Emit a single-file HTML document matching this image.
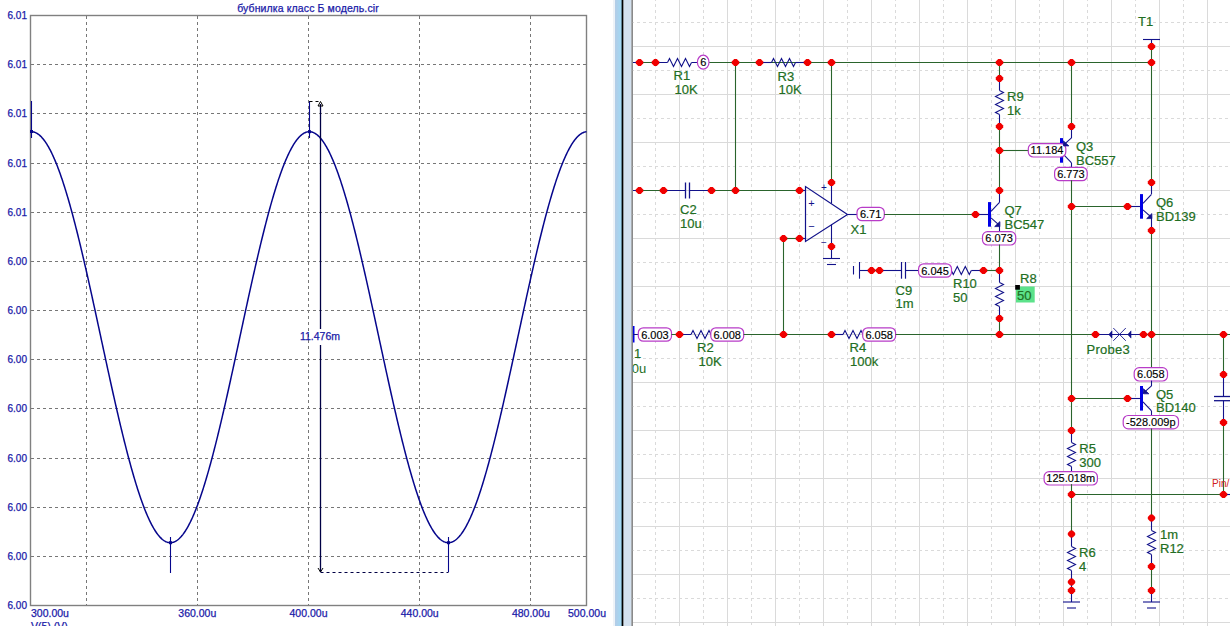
<!DOCTYPE html>
<html><head><meta charset="utf-8">
<style>
html,body{margin:0;padding:0;background:#fff;width:1230px;height:626px;overflow:hidden}
svg{display:block}
text{font-family:"Liberation Sans",sans-serif}
.pt{font-size:10.5px;fill:#1a1aa8;stroke:#1a1aa8;stroke-width:0.25px}
.py{font-size:10px;fill:#1a1aa8;stroke:#1a1aa8;stroke-width:0.25px}
.sl{font-size:13px;fill:#226e22;stroke:#226e22;stroke-width:0.2px}
.slc{font-size:13px;fill:#226e22}
.nl{font-size:11px;fill:#000;stroke:#000;stroke-width:0.15px}
.op{font-size:11px;fill:#12128a}
.op2{font-size:10px;fill:#12128a}
.pin{font-size:10px;fill:#d02020}
</style></head><body>
<svg width="1230" height="626" viewBox="0 0 1230 626">
<defs>
<linearGradient id="sepg" x1="0" x2="1" y1="0" y2="0"><stop offset="0" stop-color="#b4cce6"/><stop offset="1" stop-color="#9edaf6"/></linearGradient>
<clipPath id="sch"><rect x="632.8" y="0" width="600" height="626"/></clipPath>
</defs>
<rect x="0" y="0" width="613" height="626" fill="#fff"/>
<line x1="31" y1="64.5" x2="586.5" y2="64.5" stroke="#777777" stroke-width="1" stroke-dasharray="3 3"/>
<line x1="31" y1="113.5" x2="586.5" y2="113.5" stroke="#777777" stroke-width="1" stroke-dasharray="3 3"/>
<line x1="31" y1="163.5" x2="586.5" y2="163.5" stroke="#777777" stroke-width="1" stroke-dasharray="3 3"/>
<line x1="31" y1="212.5" x2="586.5" y2="212.5" stroke="#777777" stroke-width="1" stroke-dasharray="3 3"/>
<line x1="31" y1="261.5" x2="586.5" y2="261.5" stroke="#777777" stroke-width="1" stroke-dasharray="3 3"/>
<line x1="31" y1="310.5" x2="586.5" y2="310.5" stroke="#777777" stroke-width="1" stroke-dasharray="3 3"/>
<line x1="31" y1="359.5" x2="586.5" y2="359.5" stroke="#777777" stroke-width="1" stroke-dasharray="3 3"/>
<line x1="31" y1="408.5" x2="586.5" y2="408.5" stroke="#777777" stroke-width="1" stroke-dasharray="3 3"/>
<line x1="31" y1="458.5" x2="586.5" y2="458.5" stroke="#777777" stroke-width="1" stroke-dasharray="3 3"/>
<line x1="31" y1="507.5" x2="586.5" y2="507.5" stroke="#777777" stroke-width="1" stroke-dasharray="3 3"/>
<line x1="31" y1="556.5" x2="586.5" y2="556.5" stroke="#777777" stroke-width="1" stroke-dasharray="3 3"/>
<line x1="86.5" y1="16" x2="86.5" y2="605.5" stroke="#777777" stroke-width="1" stroke-dasharray="3 3"/>
<line x1="197.5" y1="16" x2="197.5" y2="605.5" stroke="#777777" stroke-width="1" stroke-dasharray="3 3"/>
<line x1="308.5" y1="16" x2="308.5" y2="605.5" stroke="#777777" stroke-width="1" stroke-dasharray="3 3"/>
<line x1="419.5" y1="16" x2="419.5" y2="605.5" stroke="#777777" stroke-width="1" stroke-dasharray="3 3"/>
<line x1="530.5" y1="16" x2="530.5" y2="605.5" stroke="#777777" stroke-width="1" stroke-dasharray="3 3"/>
<rect x="30.5" y="15.5" width="556.0" height="590.0" fill="none" stroke="#808080" stroke-width="1.4"/>
<text x="27" y="19.1" text-anchor="end" class="py">6.01</text>
<text x="27" y="68.3" text-anchor="end" class="py">6.01</text>
<text x="27" y="117.4" text-anchor="end" class="py">6.01</text>
<text x="27" y="166.6" text-anchor="end" class="py">6.01</text>
<text x="27" y="215.8" text-anchor="end" class="py">6.01</text>
<text x="27" y="264.9" text-anchor="end" class="py">6.00</text>
<text x="27" y="314.1" text-anchor="end" class="py">6.00</text>
<text x="27" y="363.3" text-anchor="end" class="py">6.00</text>
<text x="27" y="412.4" text-anchor="end" class="py">6.00</text>
<text x="27" y="461.6" text-anchor="end" class="py">6.00</text>
<text x="27" y="510.8" text-anchor="end" class="py">6.00</text>
<text x="27" y="559.9" text-anchor="end" class="py">6.00</text>
<text x="27" y="609.1" text-anchor="end" class="py">6.00</text>
<text x="31.0" y="617" text-anchor="start" class="pt">300.00u</text>
<text x="197.3" y="617" text-anchor="middle" class="pt">360.00u</text>
<text x="308.5" y="617" text-anchor="middle" class="pt">400.00u</text>
<text x="419.7" y="617" text-anchor="middle" class="pt">440.00u</text>
<text x="530.9" y="617" text-anchor="middle" class="pt">480.00u</text>
<text x="606.0" y="617" text-anchor="end" class="pt">500.00u</text>
<text x="31" y="630" class="pt">V(5) (V)</text>
<text x="308" y="12" text-anchor="middle" class="pt" letter-spacing="0.12">бубнилка класс Б модель.cir</text>
<polyline points="30.5,131.74 31.0,131.71 31.5,131.70 32.0,131.72 32.5,131.77 33.0,131.85 33.5,131.95 34.0,132.07 34.5,132.23 35.0,132.40 35.5,132.61 36.0,132.84 36.5,133.10 37.0,133.38 37.5,133.69 38.0,134.03 38.5,134.39 39.0,134.78 39.5,135.19 40.0,135.63 40.5,136.09 41.0,136.58 41.5,137.10 42.0,137.64 42.5,138.21 43.0,138.80 43.5,139.42 44.0,140.06 44.5,140.73 45.0,141.42 45.5,142.14 46.0,142.89 46.5,143.65 47.0,144.45 47.5,145.27 48.0,146.11 48.5,146.97 49.0,147.86 49.5,148.78 50.0,149.72 50.5,150.68 51.0,151.67 51.5,152.68 52.0,153.71 52.5,154.77 53.0,155.85 53.5,156.95 54.0,158.08 54.5,159.23 55.0,160.40 55.5,161.60 56.0,162.82 56.5,164.05 57.0,165.32 57.5,166.60 58.0,167.91 58.5,169.23 59.0,170.58 59.5,171.95 60.0,173.34 60.5,174.75 61.0,176.19 61.5,177.64 62.0,179.11 62.5,180.61 63.0,182.12 63.5,183.66 64.0,185.21 64.5,186.78 65.0,188.37 65.5,189.98 66.0,191.61 66.5,193.26 67.0,194.93 67.5,196.61 68.0,198.32 68.5,200.04 69.0,201.77 69.5,203.53 70.0,205.30 70.5,207.09 71.0,208.90 71.5,210.72 72.0,212.56 72.5,214.41 73.0,216.28 73.5,218.17 74.0,220.07 74.5,221.98 75.0,223.91 75.5,225.86 76.0,227.82 76.5,229.79 77.0,231.78 77.5,233.78 78.0,235.79 78.5,237.82 79.0,239.86 79.5,241.91 80.0,243.97 80.5,246.05 81.0,248.13 81.5,250.23 82.0,252.34 82.5,254.46 83.0,256.59 83.5,258.73 84.0,260.89 84.5,263.05 85.0,265.22 85.5,267.40 86.0,269.59 86.5,271.78 87.0,273.99 87.5,276.20 88.0,278.42 88.5,280.65 89.0,282.89 89.5,285.13 90.0,287.38 90.5,289.64 91.0,291.90 91.5,294.17 92.0,296.44 92.5,298.72 93.0,301.00 93.5,303.29 94.0,305.58 94.5,307.88 95.0,310.18 95.5,312.49 96.0,314.79 96.5,317.10 97.0,319.41 97.5,321.73 98.0,324.05 98.5,326.36 99.0,328.68 99.5,331.01 100.0,333.33 100.5,335.65 101.0,337.97 101.5,340.29 102.0,342.61 102.5,344.94 103.0,347.26 103.5,349.57 104.0,351.89 104.5,354.21 105.0,356.52 105.5,358.83 106.0,361.14 106.5,363.44 107.0,365.75 107.5,368.04 108.0,370.34 108.5,372.63 109.0,374.91 109.5,377.19 110.0,379.47 110.5,381.74 111.0,384.00 111.5,386.26 112.0,388.51 112.5,390.76 113.0,393.00 113.5,395.23 114.0,397.45 114.5,399.67 115.0,401.88 115.5,404.08 116.0,406.27 116.5,408.45 117.0,410.62 117.5,412.79 118.0,414.94 118.5,417.09 119.0,419.22 119.5,421.35 120.0,423.46 120.5,425.56 121.0,427.65 121.5,429.73 122.0,431.80 122.5,433.86 123.0,435.90 123.5,437.93 124.0,439.95 124.5,441.95 125.0,443.94 125.5,445.92 126.0,447.88 126.5,449.83 127.0,451.77 127.5,453.69 128.0,455.60 128.5,457.49 129.0,459.36 129.5,461.22 130.0,463.06 130.5,464.89 131.0,466.70 131.5,468.50 132.0,470.28 132.5,472.04 133.0,473.78 133.5,475.51 134.0,477.22 134.5,478.91 135.0,480.58 135.5,482.23 136.0,483.87 136.5,485.49 137.0,487.09 137.5,488.66 138.0,490.22 138.5,491.76 139.0,493.29 139.5,494.79 140.0,496.27 140.5,497.73 141.0,499.17 141.5,500.59 142.0,501.98 142.5,503.36 143.0,504.72 143.5,506.05 144.0,507.36 144.5,508.65 145.0,509.92 145.5,511.17 146.0,512.40 146.5,513.60 147.0,514.78 147.5,515.94 148.0,517.07 148.5,518.18 149.0,519.27 149.5,520.34 150.0,521.38 150.5,522.40 151.0,523.39 151.5,524.36 152.0,525.31 152.5,526.23 153.0,527.13 153.5,528.00 154.0,528.85 154.5,529.68 155.0,530.48 155.5,531.26 156.0,532.01 156.5,532.74 157.0,533.44 157.5,534.12 158.0,534.77 158.5,535.39 159.0,535.99 159.5,536.57 160.0,537.12 160.5,537.64 161.0,538.14 161.5,538.62 162.0,539.07 162.5,539.49 163.0,539.88 163.5,540.25 164.0,540.60 164.5,540.92 165.0,541.21 165.5,541.47 166.0,541.71 166.5,541.93 167.0,542.12 167.5,542.28 168.0,542.41 168.5,542.52 169.0,542.61 169.5,542.66 170.0,542.69 170.5,542.70 171.0,542.68 171.5,542.63 172.0,542.55 172.5,542.45 173.0,542.33 173.5,542.17 174.0,542.00 174.5,541.79 175.0,541.56 175.5,541.30 176.0,541.02 176.5,540.71 177.0,540.37 177.5,540.01 178.0,539.62 178.5,539.21 179.0,538.77 179.5,538.31 180.0,537.82 180.5,537.30 181.0,536.76 181.5,536.19 182.0,535.60 182.5,534.98 183.0,534.34 183.5,533.67 184.0,532.98 184.5,532.26 185.0,531.51 185.5,530.75 186.0,529.95 186.5,529.13 187.0,528.29 187.5,527.43 188.0,526.54 188.5,525.62 189.0,524.68 189.5,523.72 190.0,522.73 190.5,521.72 191.0,520.69 191.5,519.63 192.0,518.55 192.5,517.45 193.0,516.32 193.5,515.17 194.0,514.00 194.5,512.80 195.0,511.58 195.5,510.35 196.0,509.08 196.5,507.80 197.0,506.49 197.5,505.17 198.0,503.82 198.5,502.45 199.0,501.06 199.5,499.65 200.0,498.21 200.5,496.76 201.0,495.29 201.5,493.79 202.0,492.28 202.5,490.74 203.0,489.19 203.5,487.62 204.0,486.03 204.5,484.42 205.0,482.79 205.5,481.14 206.0,479.47 206.5,477.79 207.0,476.08 207.5,474.36 208.0,472.63 208.5,470.87 209.0,469.10 209.5,467.31 210.0,465.50 210.5,463.68 211.0,461.84 211.5,459.99 212.0,458.12 212.5,456.23 213.0,454.33 213.5,452.42 214.0,450.49 214.5,448.54 215.0,446.58 215.5,444.61 216.0,442.62 216.5,440.62 217.0,438.61 217.5,436.58 218.0,434.54 218.5,432.49 219.0,430.43 219.5,428.35 220.0,426.27 220.5,424.17 221.0,422.06 221.5,419.94 222.0,417.81 222.5,415.67 223.0,413.51 223.5,411.35 224.0,409.18 224.5,407.00 225.0,404.81 225.5,402.62 226.0,400.41 226.5,398.20 227.0,395.98 227.5,393.75 228.0,391.51 228.5,389.27 229.0,387.02 229.5,384.76 230.0,382.50 230.5,380.23 231.0,377.96 231.5,375.68 232.0,373.40 232.5,371.11 233.0,368.82 233.5,366.52 234.0,364.22 234.5,361.91 235.0,359.61 235.5,357.30 236.0,354.99 236.5,352.67 237.0,350.35 237.5,348.04 238.0,345.72 238.5,343.39 239.0,341.07 239.5,338.75 240.0,336.43 240.5,334.11 241.0,331.79 241.5,329.46 242.0,327.14 242.5,324.83 243.0,322.51 243.5,320.19 244.0,317.88 244.5,315.57 245.0,313.26 245.5,310.96 246.0,308.65 246.5,306.36 247.0,304.06 247.5,301.77 248.0,299.49 248.5,297.21 249.0,294.93 249.5,292.66 250.0,290.40 250.5,288.14 251.0,285.89 251.5,283.64 252.0,281.40 252.5,279.17 253.0,276.95 253.5,274.73 254.0,272.52 254.5,270.32 255.0,268.13 255.5,265.95 256.0,263.78 256.5,261.61 257.0,259.46 257.5,257.31 258.0,255.18 258.5,253.05 259.0,250.94 259.5,248.84 260.0,246.75 260.5,244.67 261.0,242.60 261.5,240.54 262.0,238.50 262.5,236.47 263.0,234.45 263.5,232.45 264.0,230.46 264.5,228.48 265.0,226.52 265.5,224.57 266.0,222.63 266.5,220.71 267.0,218.80 267.5,216.91 268.0,215.04 268.5,213.18 269.0,211.34 269.5,209.51 270.0,207.70 270.5,205.90 271.0,204.12 271.5,202.36 272.0,200.62 272.5,198.89 273.0,197.18 273.5,195.49 274.0,193.82 274.5,192.17 275.0,190.53 275.5,188.91 276.0,187.31 276.5,185.74 277.0,184.18 277.5,182.64 278.0,181.11 278.5,179.61 279.0,178.13 279.5,176.67 280.0,175.23 280.5,173.81 281.0,172.42 281.5,171.04 282.0,169.68 282.5,168.35 283.0,167.04 283.5,165.75 284.0,164.48 284.5,163.23 285.0,162.00 285.5,160.80 286.0,159.62 286.5,158.46 287.0,157.33 287.5,156.22 288.0,155.13 288.5,154.06 289.0,153.02 289.5,152.00 290.0,151.01 290.5,150.04 291.0,149.09 291.5,148.17 292.0,147.27 292.5,146.40 293.0,145.55 293.5,144.72 294.0,143.92 294.5,143.14 295.0,142.39 295.5,141.66 296.0,140.96 296.5,140.28 297.0,139.63 297.5,139.01 298.0,138.41 298.5,137.83 299.0,137.28 299.5,136.76 300.0,136.26 300.5,135.78 301.0,135.33 301.5,134.91 302.0,134.52 302.5,134.15 303.0,133.80 303.5,133.48 304.0,133.19 304.5,132.93 305.0,132.69 305.5,132.47 306.0,132.28 306.5,132.12 307.0,131.99 307.5,131.88 308.0,131.79 308.5,131.74 309.0,131.71 309.5,131.70 310.0,131.72 310.5,131.77 311.0,131.85 311.5,131.95 312.0,132.07 312.5,132.23 313.0,132.40 313.5,132.61 314.0,132.84 314.5,133.10 315.0,133.38 315.5,133.69 316.0,134.03 316.5,134.39 317.0,134.78 317.5,135.19 318.0,135.63 318.5,136.09 319.0,136.58 319.5,137.10 320.0,137.64 320.5,138.21 321.0,138.80 321.5,139.42 322.0,140.06 322.5,140.73 323.0,141.42 323.5,142.14 324.0,142.89 324.5,143.65 325.0,144.45 325.5,145.27 326.0,146.11 326.5,146.97 327.0,147.86 327.5,148.78 328.0,149.72 328.5,150.68 329.0,151.67 329.5,152.68 330.0,153.71 330.5,154.77 331.0,155.85 331.5,156.95 332.0,158.08 332.5,159.23 333.0,160.40 333.5,161.60 334.0,162.82 334.5,164.05 335.0,165.32 335.5,166.60 336.0,167.91 336.5,169.23 337.0,170.58 337.5,171.95 338.0,173.34 338.5,174.75 339.0,176.19 339.5,177.64 340.0,179.11 340.5,180.61 341.0,182.12 341.5,183.66 342.0,185.21 342.5,186.78 343.0,188.37 343.5,189.98 344.0,191.61 344.5,193.26 345.0,194.93 345.5,196.61 346.0,198.32 346.5,200.04 347.0,201.77 347.5,203.53 348.0,205.30 348.5,207.09 349.0,208.90 349.5,210.72 350.0,212.56 350.5,214.41 351.0,216.28 351.5,218.17 352.0,220.07 352.5,221.98 353.0,223.91 353.5,225.86 354.0,227.82 354.5,229.79 355.0,231.78 355.5,233.78 356.0,235.79 356.5,237.82 357.0,239.86 357.5,241.91 358.0,243.97 358.5,246.05 359.0,248.13 359.5,250.23 360.0,252.34 360.5,254.46 361.0,256.59 361.5,258.73 362.0,260.89 362.5,263.05 363.0,265.22 363.5,267.40 364.0,269.59 364.5,271.78 365.0,273.99 365.5,276.20 366.0,278.42 366.5,280.65 367.0,282.89 367.5,285.13 368.0,287.38 368.5,289.64 369.0,291.90 369.5,294.17 370.0,296.44 370.5,298.72 371.0,301.00 371.5,303.29 372.0,305.58 372.5,307.88 373.0,310.18 373.5,312.49 374.0,314.79 374.5,317.10 375.0,319.41 375.5,321.73 376.0,324.05 376.5,326.36 377.0,328.68 377.5,331.01 378.0,333.33 378.5,335.65 379.0,337.97 379.5,340.29 380.0,342.61 380.5,344.94 381.0,347.26 381.5,349.57 382.0,351.89 382.5,354.21 383.0,356.52 383.5,358.83 384.0,361.14 384.5,363.44 385.0,365.75 385.5,368.04 386.0,370.34 386.5,372.63 387.0,374.91 387.5,377.19 388.0,379.47 388.5,381.74 389.0,384.00 389.5,386.26 390.0,388.51 390.5,390.76 391.0,393.00 391.5,395.23 392.0,397.45 392.5,399.67 393.0,401.88 393.5,404.08 394.0,406.27 394.5,408.45 395.0,410.62 395.5,412.79 396.0,414.94 396.5,417.09 397.0,419.22 397.5,421.35 398.0,423.46 398.5,425.56 399.0,427.65 399.5,429.73 400.0,431.80 400.5,433.86 401.0,435.90 401.5,437.93 402.0,439.95 402.5,441.95 403.0,443.94 403.5,445.92 404.0,447.88 404.5,449.83 405.0,451.77 405.5,453.69 406.0,455.60 406.5,457.49 407.0,459.36 407.5,461.22 408.0,463.06 408.5,464.89 409.0,466.70 409.5,468.50 410.0,470.28 410.5,472.04 411.0,473.78 411.5,475.51 412.0,477.22 412.5,478.91 413.0,480.58 413.5,482.23 414.0,483.87 414.5,485.49 415.0,487.09 415.5,488.66 416.0,490.22 416.5,491.76 417.0,493.29 417.5,494.79 418.0,496.27 418.5,497.73 419.0,499.17 419.5,500.59 420.0,501.98 420.5,503.36 421.0,504.72 421.5,506.05 422.0,507.36 422.5,508.65 423.0,509.92 423.5,511.17 424.0,512.40 424.5,513.60 425.0,514.78 425.5,515.94 426.0,517.07 426.5,518.18 427.0,519.27 427.5,520.34 428.0,521.38 428.5,522.40 429.0,523.39 429.5,524.36 430.0,525.31 430.5,526.23 431.0,527.13 431.5,528.00 432.0,528.85 432.5,529.68 433.0,530.48 433.5,531.26 434.0,532.01 434.5,532.74 435.0,533.44 435.5,534.12 436.0,534.77 436.5,535.39 437.0,535.99 437.5,536.57 438.0,537.12 438.5,537.64 439.0,538.14 439.5,538.62 440.0,539.07 440.5,539.49 441.0,539.88 441.5,540.25 442.0,540.60 442.5,540.92 443.0,541.21 443.5,541.47 444.0,541.71 444.5,541.93 445.0,542.12 445.5,542.28 446.0,542.41 446.5,542.52 447.0,542.61 447.5,542.66 448.0,542.69 448.5,542.70 449.0,542.68 449.5,542.63 450.0,542.55 450.5,542.45 451.0,542.33 451.5,542.17 452.0,542.00 452.5,541.79 453.0,541.56 453.5,541.30 454.0,541.02 454.5,540.71 455.0,540.37 455.5,540.01 456.0,539.62 456.5,539.21 457.0,538.77 457.5,538.31 458.0,537.82 458.5,537.30 459.0,536.76 459.5,536.19 460.0,535.60 460.5,534.98 461.0,534.34 461.5,533.67 462.0,532.98 462.5,532.26 463.0,531.51 463.5,530.75 464.0,529.95 464.5,529.13 465.0,528.29 465.5,527.43 466.0,526.54 466.5,525.62 467.0,524.68 467.5,523.72 468.0,522.73 468.5,521.72 469.0,520.69 469.5,519.63 470.0,518.55 470.5,517.45 471.0,516.32 471.5,515.17 472.0,514.00 472.5,512.80 473.0,511.58 473.5,510.35 474.0,509.08 474.5,507.80 475.0,506.49 475.5,505.17 476.0,503.82 476.5,502.45 477.0,501.06 477.5,499.65 478.0,498.21 478.5,496.76 479.0,495.29 479.5,493.79 480.0,492.28 480.5,490.74 481.0,489.19 481.5,487.62 482.0,486.03 482.5,484.42 483.0,482.79 483.5,481.14 484.0,479.47 484.5,477.79 485.0,476.08 485.5,474.36 486.0,472.63 486.5,470.87 487.0,469.10 487.5,467.31 488.0,465.50 488.5,463.68 489.0,461.84 489.5,459.99 490.0,458.12 490.5,456.23 491.0,454.33 491.5,452.42 492.0,450.49 492.5,448.54 493.0,446.58 493.5,444.61 494.0,442.62 494.5,440.62 495.0,438.61 495.5,436.58 496.0,434.54 496.5,432.49 497.0,430.43 497.5,428.35 498.0,426.27 498.5,424.17 499.0,422.06 499.5,419.94 500.0,417.81 500.5,415.67 501.0,413.51 501.5,411.35 502.0,409.18 502.5,407.00 503.0,404.81 503.5,402.62 504.0,400.41 504.5,398.20 505.0,395.98 505.5,393.75 506.0,391.51 506.5,389.27 507.0,387.02 507.5,384.76 508.0,382.50 508.5,380.23 509.0,377.96 509.5,375.68 510.0,373.40 510.5,371.11 511.0,368.82 511.5,366.52 512.0,364.22 512.5,361.91 513.0,359.61 513.5,357.30 514.0,354.99 514.5,352.67 515.0,350.35 515.5,348.04 516.0,345.72 516.5,343.39 517.0,341.07 517.5,338.75 518.0,336.43 518.5,334.11 519.0,331.79 519.5,329.46 520.0,327.14 520.5,324.83 521.0,322.51 521.5,320.19 522.0,317.88 522.5,315.57 523.0,313.26 523.5,310.96 524.0,308.65 524.5,306.36 525.0,304.06 525.5,301.77 526.0,299.49 526.5,297.21 527.0,294.93 527.5,292.66 528.0,290.40 528.5,288.14 529.0,285.89 529.5,283.64 530.0,281.40 530.5,279.17 531.0,276.95 531.5,274.73 532.0,272.52 532.5,270.32 533.0,268.13 533.5,265.95 534.0,263.78 534.5,261.61 535.0,259.46 535.5,257.31 536.0,255.18 536.5,253.05 537.0,250.94 537.5,248.84 538.0,246.75 538.5,244.67 539.0,242.60 539.5,240.54 540.0,238.50 540.5,236.47 541.0,234.45 541.5,232.45 542.0,230.46 542.5,228.48 543.0,226.52 543.5,224.57 544.0,222.63 544.5,220.71 545.0,218.80 545.5,216.91 546.0,215.04 546.5,213.18 547.0,211.34 547.5,209.51 548.0,207.70 548.5,205.90 549.0,204.12 549.5,202.36 550.0,200.62 550.5,198.89 551.0,197.18 551.5,195.49 552.0,193.82 552.5,192.17 553.0,190.53 553.5,188.91 554.0,187.31 554.5,185.74 555.0,184.18 555.5,182.64 556.0,181.11 556.5,179.61 557.0,178.13 557.5,176.67 558.0,175.23 558.5,173.81 559.0,172.42 559.5,171.04 560.0,169.68 560.5,168.35 561.0,167.04 561.5,165.75 562.0,164.48 562.5,163.23 563.0,162.00 563.5,160.80 564.0,159.62 564.5,158.46 565.0,157.33 565.5,156.22 566.0,155.13 566.5,154.06 567.0,153.02 567.5,152.00 568.0,151.01 568.5,150.04 569.0,149.09 569.5,148.17 570.0,147.27 570.5,146.40 571.0,145.55 571.5,144.72 572.0,143.92 572.5,143.14 573.0,142.39 573.5,141.66 574.0,140.96 574.5,140.28 575.0,139.63 575.5,139.01 576.0,138.41 576.5,137.83 577.0,137.28 577.5,136.76 578.0,136.26 578.5,135.78 579.0,135.33 579.5,134.91 580.0,134.52 580.5,134.15 581.0,133.80 581.5,133.48 582.0,133.19 582.5,132.93 583.0,132.69 583.5,132.47 584.0,132.28 584.5,132.12 585.0,131.99 585.5,131.88 586.0,131.79 586.5,131.74" fill="none" stroke="#06068c" stroke-width="1.5"/>
<line x1="31.5" y1="101" x2="31.5" y2="138" stroke="#06068c" stroke-width="1.1"/>
<line x1="309.5" y1="101" x2="309.5" y2="138" stroke="#06068c" stroke-width="1.1"/>
<line x1="170.5" y1="537" x2="170.5" y2="573" stroke="#06068c" stroke-width="1.1"/>
<line x1="448.5" y1="537" x2="448.5" y2="572" stroke="#06068c" stroke-width="1.1"/>
<rect x="30.0" y="130.0" width="3" height="3" fill="#06068c"/>
<rect x="308.0" y="130.2" width="3" height="3" fill="#06068c"/>
<rect x="169.0" y="541.2" width="3" height="3" fill="#06068c"/>
<rect x="447.0" y="541.2" width="3" height="3" fill="#06068c"/>
<line x1="309.5" y1="101.5" x2="320.5" y2="101.5" stroke="#000" stroke-width="1" stroke-dasharray="3 3"/>
<line x1="320.5" y1="104" x2="320.5" y2="329" stroke="#000044" stroke-width="1.3"/>
<line x1="320.5" y1="345" x2="320.5" y2="572" stroke="#000044" stroke-width="1.3"/>
<path d="M318,106 L320.5,101.5 L323,106 Z" fill="none" stroke="#000" stroke-width="1"/>
<path d="M318,568 L320.5,572 L323,568" fill="none" stroke="#000" stroke-width="1"/>
<line x1="320.5" y1="572.5" x2="448.5" y2="572.5" stroke="#000044" stroke-width="1.2" stroke-dasharray="3 3"/>
<text x="320" y="340" text-anchor="middle" class="pt">11.476m</text>
<rect x="613" y="0" width="2" height="626" fill="#eef3f8"/>
<rect x="615" y="0" width="7" height="626" fill="url(#sepg)"/>
<rect x="621.6" y="0" width="2" height="626" fill="#000"/>
<rect x="623.6" y="0" width="8" height="626" fill="#d3e1ef"/>
<rect x="631.5" y="0" width="1.3" height="626" fill="#6e6e6e"/>
<g clip-path="url(#sch)">
<rect x="633" y="0" width="597" height="626" fill="#fff"/>
<line x1="655.5" y1="-2" x2="655.5" y2="626" stroke="#dadada" stroke-width="1" stroke-dasharray="3 3"/>
<line x1="679.5" y1="0" x2="679.5" y2="626" stroke="#dadada" stroke-width="1"/>
<line x1="703.5" y1="-2" x2="703.5" y2="626" stroke="#dadada" stroke-width="1" stroke-dasharray="3 3"/>
<line x1="727.5" y1="0" x2="727.5" y2="626" stroke="#dadada" stroke-width="1"/>
<line x1="751.5" y1="-2" x2="751.5" y2="626" stroke="#dadada" stroke-width="1" stroke-dasharray="3 3"/>
<line x1="775.5" y1="0" x2="775.5" y2="626" stroke="#dadada" stroke-width="1"/>
<line x1="799.5" y1="-2" x2="799.5" y2="626" stroke="#dadada" stroke-width="1" stroke-dasharray="3 3"/>
<line x1="823.5" y1="0" x2="823.5" y2="626" stroke="#dadada" stroke-width="1"/>
<line x1="847.5" y1="-2" x2="847.5" y2="626" stroke="#dadada" stroke-width="1" stroke-dasharray="3 3"/>
<line x1="871.5" y1="0" x2="871.5" y2="626" stroke="#dadada" stroke-width="1"/>
<line x1="895.5" y1="-2" x2="895.5" y2="626" stroke="#dadada" stroke-width="1" stroke-dasharray="3 3"/>
<line x1="919.5" y1="0" x2="919.5" y2="626" stroke="#dadada" stroke-width="1"/>
<line x1="943.5" y1="-2" x2="943.5" y2="626" stroke="#dadada" stroke-width="1" stroke-dasharray="3 3"/>
<line x1="967.5" y1="0" x2="967.5" y2="626" stroke="#dadada" stroke-width="1"/>
<line x1="991.5" y1="-2" x2="991.5" y2="626" stroke="#dadada" stroke-width="1" stroke-dasharray="3 3"/>
<line x1="1015.5" y1="0" x2="1015.5" y2="626" stroke="#dadada" stroke-width="1"/>
<line x1="1039.5" y1="-2" x2="1039.5" y2="626" stroke="#dadada" stroke-width="1" stroke-dasharray="3 3"/>
<line x1="1063.5" y1="0" x2="1063.5" y2="626" stroke="#dadada" stroke-width="1"/>
<line x1="1087.5" y1="-2" x2="1087.5" y2="626" stroke="#dadada" stroke-width="1" stroke-dasharray="3 3"/>
<line x1="1111.5" y1="0" x2="1111.5" y2="626" stroke="#dadada" stroke-width="1"/>
<line x1="1135.5" y1="-2" x2="1135.5" y2="626" stroke="#dadada" stroke-width="1" stroke-dasharray="3 3"/>
<line x1="1159.5" y1="0" x2="1159.5" y2="626" stroke="#dadada" stroke-width="1"/>
<line x1="1183.5" y1="-2" x2="1183.5" y2="626" stroke="#dadada" stroke-width="1" stroke-dasharray="3 3"/>
<line x1="1207.5" y1="0" x2="1207.5" y2="626" stroke="#dadada" stroke-width="1"/>
<line x1="631" y1="22.5" x2="1230" y2="22.5" stroke="#dadada" stroke-width="1" stroke-dasharray="3 3"/>
<line x1="633" y1="46.5" x2="1230" y2="46.5" stroke="#dadada" stroke-width="1"/>
<line x1="631" y1="70.5" x2="1230" y2="70.5" stroke="#dadada" stroke-width="1" stroke-dasharray="3 3"/>
<line x1="633" y1="94.5" x2="1230" y2="94.5" stroke="#dadada" stroke-width="1"/>
<line x1="631" y1="118.5" x2="1230" y2="118.5" stroke="#dadada" stroke-width="1" stroke-dasharray="3 3"/>
<line x1="633" y1="142.5" x2="1230" y2="142.5" stroke="#dadada" stroke-width="1"/>
<line x1="631" y1="166.5" x2="1230" y2="166.5" stroke="#dadada" stroke-width="1" stroke-dasharray="3 3"/>
<line x1="633" y1="190.5" x2="1230" y2="190.5" stroke="#dadada" stroke-width="1"/>
<line x1="631" y1="214.5" x2="1230" y2="214.5" stroke="#dadada" stroke-width="1" stroke-dasharray="3 3"/>
<line x1="633" y1="238.5" x2="1230" y2="238.5" stroke="#dadada" stroke-width="1"/>
<line x1="631" y1="262.5" x2="1230" y2="262.5" stroke="#dadada" stroke-width="1" stroke-dasharray="3 3"/>
<line x1="633" y1="286.5" x2="1230" y2="286.5" stroke="#dadada" stroke-width="1"/>
<line x1="631" y1="310.5" x2="1230" y2="310.5" stroke="#dadada" stroke-width="1" stroke-dasharray="3 3"/>
<line x1="633" y1="334.5" x2="1230" y2="334.5" stroke="#dadada" stroke-width="1"/>
<line x1="631" y1="358.5" x2="1230" y2="358.5" stroke="#dadada" stroke-width="1" stroke-dasharray="3 3"/>
<line x1="633" y1="382.5" x2="1230" y2="382.5" stroke="#dadada" stroke-width="1"/>
<line x1="631" y1="406.5" x2="1230" y2="406.5" stroke="#dadada" stroke-width="1" stroke-dasharray="3 3"/>
<line x1="633" y1="430.5" x2="1230" y2="430.5" stroke="#dadada" stroke-width="1"/>
<line x1="631" y1="454.5" x2="1230" y2="454.5" stroke="#dadada" stroke-width="1" stroke-dasharray="3 3"/>
<line x1="633" y1="478.5" x2="1230" y2="478.5" stroke="#dadada" stroke-width="1"/>
<line x1="631" y1="502.5" x2="1230" y2="502.5" stroke="#dadada" stroke-width="1" stroke-dasharray="3 3"/>
<line x1="633" y1="526.5" x2="1230" y2="526.5" stroke="#dadada" stroke-width="1"/>
<line x1="631" y1="550.5" x2="1230" y2="550.5" stroke="#dadada" stroke-width="1" stroke-dasharray="3 3"/>
<line x1="633" y1="574.5" x2="1230" y2="574.5" stroke="#dadada" stroke-width="1"/>
<line x1="631" y1="598.5" x2="1230" y2="598.5" stroke="#dadada" stroke-width="1" stroke-dasharray="3 3"/>
<line x1="633" y1="622.5" x2="1230" y2="622.5" stroke="#dadada" stroke-width="1"/>
<line x1="631" y1="646.5" x2="1230" y2="646.5" stroke="#dadada" stroke-width="1" stroke-dasharray="3 3"/>
<path d="M633,62.5 L639.5,62.5" fill="none" stroke="#12128a" stroke-width="1.1"/>
<path d="M639.5,62.5 L655.5,62.5" fill="none" stroke="#2a642c" stroke-width="1.1"/>
<path d="M655.5,62.5 L667.5,62.5" fill="none" stroke="#12128a" stroke-width="1.1"/>
<path d="M667.5,62.5 L669.5,58.5 L673.5,66.5 L677.5,58.5 L681.5,66.5 L685.5,58.5 L689.5,66.5 L691.5,62.5" fill="none" stroke="#12128a" stroke-width="1.1"/>
<path d="M691.5,62.5 L698,62.5" fill="none" stroke="#12128a" stroke-width="1.1"/>
<path d="M709,62.5 L1151.5,62.5" fill="none" stroke="#2a642c" stroke-width="1.1"/>
<path d="M759.5,62.5 L771.5,62.5" fill="none" stroke="#12128a" stroke-width="1.1"/>
<path d="M771.5,62.5 L773.5,58.5 L777.5,66.5 L781.5,58.5 L785.5,66.5 L789.5,58.5 L793.5,66.5 L795.5,62.5" fill="none" stroke="#12128a" stroke-width="1.1"/>
<path d="M795.5,62.5 L807.5,62.5" fill="none" stroke="#12128a" stroke-width="1.1"/>
<path d="M735.5,62.5 L735.5,190.5" fill="none" stroke="#2a642c" stroke-width="1.1"/>
<path d="M831.5,62.5 L831.5,182.5" fill="none" stroke="#2a642c" stroke-width="1.1"/>
<path d="M831.5,182.5 L831.5,203.5" fill="none" stroke="#12128a" stroke-width="1.1"/>
<path d="M999.5,62.5 L999.5,78.5" fill="none" stroke="#2a642c" stroke-width="1.1"/>
<path d="M999.5,78.5 L999.5,90.5" fill="none" stroke="#12128a" stroke-width="1.1"/>
<path d="M999.5,90.5 L1003.5,92.5 L995.5,96.5 L1003.5,100.5 L995.5,104.5 L1003.5,108.5 L995.5,112.5 L999.5,114.5" fill="none" stroke="#12128a" stroke-width="1.1"/>
<path d="M999.5,114.5 L999.5,126.5" fill="none" stroke="#12128a" stroke-width="1.1"/>
<path d="M999.5,126.5 L999.5,190.5" fill="none" stroke="#2a642c" stroke-width="1.1"/>
<path d="M999.5,190.5 L999.5,202.5" fill="none" stroke="#12128a" stroke-width="1.1"/>
<path d="M1071.5,62.5 L1071.5,126.5" fill="none" stroke="#2a642c" stroke-width="1.1"/>
<path d="M1071.5,126.5 L1071.5,138" fill="none" stroke="#12128a" stroke-width="1.1"/>
<path d="M1151.5,46.5 L1151.5,182.5" fill="none" stroke="#2a642c" stroke-width="1.1"/>
<path d="M1151.5,182.5 L1151.5,194" fill="none" stroke="#12128a" stroke-width="1.1"/>
<path d="M1143,39.5 L1160,39.5" fill="none" stroke="#12128a" stroke-width="1.1"/>
<path d="M1151.5,39.5 L1151.5,46.5" fill="none" stroke="#12128a" stroke-width="1.1"/>
<text x="1138" y="26" class="sl" text-anchor="start">T1</text>
<path d="M633,190.5 L639.5,190.5" fill="none" stroke="#12128a" stroke-width="1.1"/>
<path d="M639.5,190.5 L663.5,190.5" fill="none" stroke="#2a642c" stroke-width="1.1"/>
<path d="M663.5,190.5 L685.5,190.5" fill="none" stroke="#12128a" stroke-width="1.1"/>
<path d="M685.5,182.5 L685.5,198.5" fill="none" stroke="#12128a" stroke-width="1.3"/>
<path d="M689.5,182.5 L689.5,198.5" fill="none" stroke="#12128a" stroke-width="1.3"/>
<path d="M689.5,190.5 L711.5,190.5" fill="none" stroke="#12128a" stroke-width="1.1"/>
<path d="M711.5,190.5 L799.5,190.5" fill="none" stroke="#2a642c" stroke-width="1.1"/>
<path d="M799.5,190.5 L805.5,190.5" fill="none" stroke="#12128a" stroke-width="1.1"/>
<path d="M805.5,186.5 L805.5,241.5 L847.5,214.5 Z" fill="none" stroke="#12128a" stroke-width="1.2"/>
<text x="811.5" y="206.5" class="op" text-anchor="middle">+</text>
<text x="811.5" y="230" class="op" text-anchor="middle">−</text>
<text x="824" y="191" class="op2" text-anchor="middle">+</text>
<text x="824" y="246" class="op2" text-anchor="middle">−</text>
<path d="M831.5,224.5 L831.5,246.5" fill="none" stroke="#12128a" stroke-width="1.1"/>
<path d="M831.5,246.5 L831.5,258.5" fill="none" stroke="#12128a" stroke-width="1.1"/>
<path d="M823.0,258.5 L840.0,258.5" fill="none" stroke="#12128a" stroke-width="1.1"/>
<path d="M827.0,264.5 L836.0,264.5" fill="none" stroke="#12128a" stroke-width="1.1"/>
<path d="M783.5,238.5 L799.5,238.5" fill="none" stroke="#2a642c" stroke-width="1.1"/>
<path d="M799.5,238.5 L805.5,238.5" fill="none" stroke="#12128a" stroke-width="1.1"/>
<path d="M783.5,238.5 L783.5,334.5" fill="none" stroke="#2a642c" stroke-width="1.1"/>
<path d="M847.5,214.5 L857,214.5" fill="none" stroke="#12128a" stroke-width="1.1"/>
<rect x="857" y="207.3" width="27.3" height="13.4" rx="5" ry="5" fill="#fff" stroke="#b83cc8" stroke-width="1.2"/>
<text x="870.6" y="218.0" class="nl" text-anchor="middle">6.71</text>
<path d="M884.3,214.5 L975.5,214.5" fill="none" stroke="#2a642c" stroke-width="1.1"/>
<path d="M975.5,214.5 L988,214.5" fill="none" stroke="#12128a" stroke-width="1.1"/>
<text x="850.5" y="233.5" class="sl" text-anchor="start">X1</text>
<text x="680" y="213.5" class="sl" text-anchor="start">C2</text>
<text x="680" y="227.5" class="sl" text-anchor="start">10u</text>
<rect x="988.0" y="202.1" width="3" height="24.6" fill="#0000e6"/>
<path d="M999.5,202.4 L991.0,211.4" fill="none" stroke="#12128a" stroke-width="1.1"/>
<path d="M991.0,217.9 L999.5,225.4" fill="none" stroke="#12128a" stroke-width="1.1"/>
<path d="M999.5,226 L999.5,232.5" fill="none" stroke="#12128a" stroke-width="1.1"/>
<rect x="982.5" y="231.6" width="33.2" height="13.4" rx="5" ry="5" fill="#fff" stroke="#b83cc8" stroke-width="1.2"/>
<text x="999.1" y="242.3" class="nl" text-anchor="middle">6.073</text>
<path d="M999.5,244.5 L999.5,270.5" fill="none" stroke="#2a642c" stroke-width="1.1"/>
<text x="1004.5" y="215" class="sl" text-anchor="start">Q7</text>
<text x="1004.5" y="229" class="sl" text-anchor="start">BC547</text>
<rect x="1060.0" y="138.1" width="3" height="24.6" fill="#0000e6"/>
<path d="M1071.5,137.9 L1063.0,145.4" fill="none" stroke="#12128a" stroke-width="1.1"/>
<path d="M1063.0,153.9 L1071.5,162.9" fill="none" stroke="#12128a" stroke-width="1.1"/>
<path d="M1071.5,163 L1071.5,168" fill="none" stroke="#12128a" stroke-width="1.1"/>
<path d="M999.5,150.5 L1028.5,150.5" fill="none" stroke="#2a642c" stroke-width="1.1"/>
<rect x="1028.3" y="143.6" width="37.5" height="13.4" rx="5" ry="5" fill="#fff" stroke="#b83cc8" stroke-width="1.2"/>
<text x="1047.0" y="154.3" class="nl" text-anchor="middle">11.184</text>
<rect x="1054.6" y="167.3" width="32.6" height="13.4" rx="5" ry="5" fill="#fff" stroke="#b83cc8" stroke-width="1.2"/>
<text x="1070.9" y="178.0" class="nl" text-anchor="middle">6.773</text>
<text x="1076" y="150.5" class="sl" text-anchor="start">Q3</text>
<text x="1076" y="164.5" class="sl" text-anchor="start">BC557</text>
<path d="M1071.5,180.3 L1071.5,430.5" fill="none" stroke="#2a642c" stroke-width="1.1"/>
<path d="M1071.5,206.5 L1127.5,206.5" fill="none" stroke="#2a642c" stroke-width="1.1"/>
<path d="M1127.5,206.5 L1141,206.5" fill="none" stroke="#12128a" stroke-width="1.1"/>
<rect x="1140.0" y="194.1" width="3" height="24.6" fill="#0000e6"/>
<path d="M1151.5,194.4 L1143.0,203.4" fill="none" stroke="#12128a" stroke-width="1.1"/>
<path d="M1143.0,209.9 L1151.5,217.4" fill="none" stroke="#12128a" stroke-width="1.1"/>
<path d="M1151.5,217.5 L1151.5,230.5" fill="none" stroke="#12128a" stroke-width="1.1"/>
<path d="M1151.5,230.5 L1151.5,368" fill="none" stroke="#2a642c" stroke-width="1.1"/>
<text x="1156" y="206.5" class="sl" text-anchor="start">Q6</text>
<text x="1156" y="220.5" class="sl" text-anchor="start">BD139</text>
<text x="1007" y="100.5" class="sl" text-anchor="start">R9</text>
<text x="1007" y="114.5" class="sl" text-anchor="start">1k</text>
<text x="673.5" y="80" class="sl" text-anchor="start">R1</text>
<text x="674.5" y="94" class="sl" text-anchor="start">10K</text>
<text x="777.5" y="80.5" class="sl" text-anchor="start">R3</text>
<text x="778.5" y="94" class="sl" text-anchor="start">10K</text>
<ellipse cx="703.2" cy="62.2" rx="5.8" ry="7" fill="#fff" stroke="#b83cc8" stroke-width="1.2"/>
<text x="703.2" y="66.2" class="nl" text-anchor="middle">6</text>
<path d="M853.5,266 L853.5,274.5" fill="none" stroke="#12128a" stroke-width="1.1"/>
<path d="M859.5,262 L859.5,278.7" fill="none" stroke="#12128a" stroke-width="1.1"/>
<path d="M859.5,270.5 L871.5,270.5" fill="none" stroke="#12128a" stroke-width="1.1"/>
<path d="M871.5,270.5 L879.5,270.5" fill="none" stroke="#2a642c" stroke-width="1.1"/>
<path d="M879.5,270.5 L901.5,270.5" fill="none" stroke="#12128a" stroke-width="1.1"/>
<path d="M901.5,262 L901.5,278.7" fill="none" stroke="#12128a" stroke-width="1.2"/>
<path d="M905.5,262 L905.5,278.7" fill="none" stroke="#12128a" stroke-width="1.2"/>
<path d="M905.5,270.5 L918.6,270.5" fill="none" stroke="#12128a" stroke-width="1.1"/>
<path d="M947.3,270.5 L949.3,266.5 L953.3,274.5 L957.3,266.5 L961.3,274.5 L965.3,266.5 L969.3,274.5 L971.3,270.5" fill="none" stroke="#12128a" stroke-width="1.1"/>
<path d="M971.3,270.5 L983.5,270.5" fill="none" stroke="#12128a" stroke-width="1.1"/>
<rect x="918.6" y="263.8" width="32.9" height="13.4" rx="5" ry="5" fill="#fff" stroke="#b83cc8" stroke-width="1.2"/>
<text x="935.0" y="274.5" class="nl" text-anchor="middle">6.045</text>
<path d="M983.5,270.5 L999.5,270.5" fill="none" stroke="#2a642c" stroke-width="1.1"/>
<text x="895.5" y="294.5" class="sl" text-anchor="start">C9</text>
<text x="895.5" y="308" class="sl" text-anchor="start">1m</text>
<text x="953" y="288" class="sl" text-anchor="start">R10</text>
<text x="953" y="301.5" class="sl" text-anchor="start">50</text>
<path d="M999.5,270.5 L999.5,282.5" fill="none" stroke="#12128a" stroke-width="1.1"/>
<path d="M999.5,282.5 L1003.5,284.5 L995.5,288.5 L1003.5,292.5 L995.5,296.5 L1003.5,300.5 L995.5,304.5 L999.5,306.5" fill="none" stroke="#12128a" stroke-width="1.1"/>
<path d="M999.5,306.5 L999.5,318.5" fill="none" stroke="#12128a" stroke-width="1.1"/>
<path d="M999.5,318.5 L999.5,334.5" fill="none" stroke="#2a642c" stroke-width="1.1"/>
<text x="1020" y="282.5" class="sl" text-anchor="start">R8</text>
<rect x="1016" y="286.5" width="18.7" height="16" fill="#5ce28a"/>
<rect x="1015.2" y="285" width="4.7" height="4.7" fill="#000"/>
<text x="1017" y="300" class="sl" text-anchor="start">50</text>
<rect x="632.5" y="326" width="2" height="16.5" fill="#0000e6"/>
<path d="M633,334.5 L638.5,334.5" fill="none" stroke="#12128a" stroke-width="1.1"/>
<rect x="638.3" y="327.8" width="33.2" height="13.4" rx="5" ry="5" fill="#fff" stroke="#b83cc8" stroke-width="1.2"/>
<text x="654.9" y="338.5" class="nl" text-anchor="middle">6.003</text>
<path d="M671.5,334.5 L679.5,334.5" fill="none" stroke="#2a642c" stroke-width="1.1"/>
<path d="M679.5,334.5 L691,334.5" fill="none" stroke="#12128a" stroke-width="1.1"/>
<path d="M691,334.5 L693,330.5 L697,338.5 L701,330.5 L705,338.5 L709,330.5 L713,338.5 L715,334.5" fill="none" stroke="#12128a" stroke-width="1.1"/>
<rect x="710.8" y="327.8" width="32.9" height="13.4" rx="5" ry="5" fill="#fff" stroke="#b83cc8" stroke-width="1.2"/>
<text x="727.2" y="338.5" class="nl" text-anchor="middle">6.008</text>
<path d="M743.7,334.5 L831.5,334.5" fill="none" stroke="#2a642c" stroke-width="1.1"/>
<path d="M831.5,334.5 L843,334.5" fill="none" stroke="#12128a" stroke-width="1.1"/>
<path d="M843,334.5 L845,330.5 L849,338.5 L853,330.5 L857,338.5 L861,330.5 L865,338.5 L867,334.5" fill="none" stroke="#12128a" stroke-width="1.1"/>
<rect x="862.7" y="327.8" width="32.9" height="13.4" rx="5" ry="5" fill="#fff" stroke="#b83cc8" stroke-width="1.2"/>
<text x="879.2" y="338.5" class="nl" text-anchor="middle">6.058</text>
<path d="M895.6,334.5 L1095.5,334.5" fill="none" stroke="#2a642c" stroke-width="1.1"/>
<path d="M1095.5,334.5 L1143.5,334.5" fill="none" stroke="#12128a" stroke-width="1.1"/>
<path d="M1143.5,334.5 L1230,334.5" fill="none" stroke="#2a642c" stroke-width="1.1"/>
<text x="697" y="352" class="sl" text-anchor="start">R2</text>
<text x="698.5" y="366" class="sl" text-anchor="start">10K</text>
<text x="849.5" y="352" class="sl" text-anchor="start">R4</text>
<text x="850" y="366" class="sl" text-anchor="start">100k</text>
<text x="634" y="358" class="sl" text-anchor="start">1</text>
<text x="624.5" y="372.5" class="slc" text-anchor="start">10u</text>
<text x="1086.5" y="354" class="sl" letter-spacing="0.25">Probe3</text>
<path d="M1108.8,334.5 L1112,330.9 L1112,338.1 Z" fill="#12128a" stroke="#12128a" stroke-width="0.6"/>
<path d="M1127.8,334.5 L1131,330.9 L1131,338.1 Z" fill="#12128a" stroke="#12128a" stroke-width="0.6"/>
<path d="M1113.3,328 L1125.8,340.8" fill="none" stroke="#12128a" stroke-width="0.9"/>
<path d="M1113.3,340.8 L1125.8,328" fill="none" stroke="#12128a" stroke-width="0.9"/>
<rect x="1134.2" y="367.6" width="33.3" height="13.4" rx="5" ry="5" fill="#fff" stroke="#b83cc8" stroke-width="1.2"/>
<text x="1150.8" y="378.3" class="nl" text-anchor="middle">6.058</text>
<path d="M1151.5,380.6 L1151.5,386" fill="none" stroke="#12128a" stroke-width="1.1"/>
<rect x="1140.0" y="386.0" width="3" height="24.6" fill="#0000e6"/>
<path d="M1151.5,385.8 L1143.0,393.3" fill="none" stroke="#12128a" stroke-width="1.1"/>
<path d="M1143.0,401.8 L1151.5,410.8" fill="none" stroke="#12128a" stroke-width="1.1"/>
<path d="M1071.5,398.5 L1127.5,398.5" fill="none" stroke="#2a642c" stroke-width="1.1"/>
<path d="M1127.5,398.5 L1141,398.5" fill="none" stroke="#12128a" stroke-width="1.1"/>
<path d="M1151.5,411 L1151.5,416" fill="none" stroke="#12128a" stroke-width="1.1"/>
<rect x="1123.2" y="415.5" width="55.3" height="13.4" rx="5" ry="5" fill="#fff" stroke="#b83cc8" stroke-width="1.2"/>
<text x="1150.8" y="426.2" class="nl" text-anchor="middle">-528.009p</text>
<path d="M1151.5,428.5 L1151.5,518" fill="none" stroke="#2a642c" stroke-width="1.1"/>
<text x="1156" y="398.5" class="sl" text-anchor="start">Q5</text>
<text x="1156" y="412" class="sl" text-anchor="start">BD140</text>
<path d="M1223.5,334.5 L1223.5,374.5" fill="none" stroke="#2a642c" stroke-width="1.1"/>
<path d="M1223.5,374.5 L1223.5,396.5" fill="none" stroke="#12128a" stroke-width="1.1"/>
<path d="M1214,396.5 L1232,396.5" fill="none" stroke="#12128a" stroke-width="1.3"/>
<path d="M1214,400.7 L1232,400.7" fill="none" stroke="#12128a" stroke-width="1.3"/>
<path d="M1223.5,400.7 L1223.5,422.5" fill="none" stroke="#12128a" stroke-width="1.1"/>
<path d="M1223.5,422.5 L1223.5,494.5" fill="none" stroke="#2a642c" stroke-width="1.1"/>
<path d="M1223.5,494.5 L1230,494.5" fill="none" stroke="#12128a" stroke-width="1.1"/>
<text x="1212" y="487" class="pin">Pin/</text>
<path d="M1071.5,430.5 L1071.5,442.5" fill="none" stroke="#12128a" stroke-width="1.1"/>
<path d="M1071.5,442.5 L1075.5,444.5 L1067.5,448.5 L1075.5,452.5 L1067.5,456.5 L1075.5,460.5 L1067.5,464.5 L1071.5,466.5" fill="none" stroke="#12128a" stroke-width="1.1"/>
<path d="M1071.5,466.5 L1071.5,472.6" fill="none" stroke="#12128a" stroke-width="1.1"/>
<rect x="1044.1" y="471.6" width="53.3" height="13.4" rx="5" ry="5" fill="#fff" stroke="#b83cc8" stroke-width="1.2"/>
<text x="1070.8" y="482.3" class="nl" text-anchor="middle">125.018m</text>
<path d="M1071.5,484.1 L1071.5,534" fill="none" stroke="#2a642c" stroke-width="1.1"/>
<path d="M1071.5,494.5 L1223.5,494.5" fill="none" stroke="#2a642c" stroke-width="1.1"/>
<text x="1079.3" y="453" class="sl" text-anchor="start">R5</text>
<text x="1079.3" y="466.5" class="sl" text-anchor="start">300</text>
<path d="M1071.5,534 L1071.5,546.5" fill="none" stroke="#12128a" stroke-width="1.1"/>
<path d="M1071.5,546.5 L1075.5,548.5 L1067.5,552.5 L1075.5,556.5 L1067.5,560.5 L1075.5,564.5 L1067.5,568.5 L1071.5,570.5" fill="none" stroke="#12128a" stroke-width="1.1"/>
<path d="M1071.5,570.5 L1071.5,582" fill="none" stroke="#12128a" stroke-width="1.1"/>
<path d="M1071.5,582 L1071.5,602" fill="none" stroke="#12128a" stroke-width="1.1"/>
<path d="M1063.0,602 L1080.0,602" fill="none" stroke="#12128a" stroke-width="1.1"/>
<path d="M1067.0,608 L1076.0,608" fill="none" stroke="#12128a" stroke-width="1.1"/>
<text x="1079" y="557" class="sl" text-anchor="start">R6</text>
<text x="1079" y="571" class="sl" text-anchor="start">4</text>
<path d="M1151.5,518 L1151.5,530.5" fill="none" stroke="#12128a" stroke-width="1.1"/>
<path d="M1151.5,530.5 L1155.5,532.5 L1147.5,536.5 L1155.5,540.5 L1147.5,544.5 L1155.5,548.5 L1147.5,552.5 L1151.5,554.5" fill="none" stroke="#12128a" stroke-width="1.1"/>
<path d="M1151.5,554.5 L1151.5,566.5" fill="none" stroke="#12128a" stroke-width="1.1"/>
<path d="M1151.5,566.5 L1151.5,590.5" fill="none" stroke="#2a642c" stroke-width="1.1"/>
<path d="M1151.5,590.5 L1151.5,602" fill="none" stroke="#12128a" stroke-width="1.1"/>
<path d="M1143.0,602 L1160.0,602" fill="none" stroke="#12128a" stroke-width="1.1"/>
<path d="M1147.0,608 L1156.0,608" fill="none" stroke="#12128a" stroke-width="1.1"/>
<text x="1160" y="539" class="sl" text-anchor="start">1m</text>
<text x="1160" y="553" class="sl" text-anchor="start">R12</text>
<path d="M635.8,61.5 L638.2,58.9 L640.8,58.9 L643.2,61.5 L643.2,63.5 L640.8,66.1 L638.2,66.1 L635.8,63.5 Z" fill="#f00000"/>
<path d="M651.8,61.5 L654.2,58.9 L656.8,58.9 L659.2,61.5 L659.2,63.5 L656.8,66.1 L654.2,66.1 L651.8,63.5 Z" fill="#f00000"/>
<path d="M731.8,61.5 L734.2,58.9 L736.8,58.9 L739.2,61.5 L739.2,63.5 L736.8,66.1 L734.2,66.1 L731.8,63.5 Z" fill="#f00000"/>
<path d="M755.8,61.5 L758.2,58.9 L760.8,58.9 L763.2,61.5 L763.2,63.5 L760.8,66.1 L758.2,66.1 L755.8,63.5 Z" fill="#f00000"/>
<path d="M803.8,61.5 L806.2,58.9 L808.8,58.9 L811.2,61.5 L811.2,63.5 L808.8,66.1 L806.2,66.1 L803.8,63.5 Z" fill="#f00000"/>
<path d="M827.8,61.5 L830.2,58.9 L832.8,58.9 L835.2,61.5 L835.2,63.5 L832.8,66.1 L830.2,66.1 L827.8,63.5 Z" fill="#f00000"/>
<path d="M995.8,61.5 L998.2,58.9 L1000.8,58.9 L1003.2,61.5 L1003.2,63.5 L1000.8,66.1 L998.2,66.1 L995.8,63.5 Z" fill="#f00000"/>
<path d="M1067.8,61.5 L1070.2,58.9 L1072.8,58.9 L1075.2,61.5 L1075.2,63.5 L1072.8,66.1 L1070.2,66.1 L1067.8,63.5 Z" fill="#f00000"/>
<path d="M1147.8,61.5 L1150.2,58.9 L1152.8,58.9 L1155.2,61.5 L1155.2,63.5 L1152.8,66.1 L1150.2,66.1 L1147.8,63.5 Z" fill="#f00000"/>
<path d="M1147.8,45.5 L1150.2,42.9 L1152.8,42.9 L1155.2,45.5 L1155.2,47.5 L1152.8,50.1 L1150.2,50.1 L1147.8,47.5 Z" fill="#f00000"/>
<path d="M995.8,77.5 L998.2,74.9 L1000.8,74.9 L1003.2,77.5 L1003.2,79.5 L1000.8,82.1 L998.2,82.1 L995.8,79.5 Z" fill="#f00000"/>
<path d="M995.8,125.5 L998.2,122.9 L1000.8,122.9 L1003.2,125.5 L1003.2,127.5 L1000.8,130.1 L998.2,130.1 L995.8,127.5 Z" fill="#f00000"/>
<path d="M995.8,149.5 L998.2,146.9 L1000.8,146.9 L1003.2,149.5 L1003.2,151.5 L1000.8,154.1 L998.2,154.1 L995.8,151.5 Z" fill="#f00000"/>
<path d="M995.8,189.5 L998.2,186.9 L1000.8,186.9 L1003.2,189.5 L1003.2,191.5 L1000.8,194.1 L998.2,194.1 L995.8,191.5 Z" fill="#f00000"/>
<path d="M1067.8,125.5 L1070.2,122.9 L1072.8,122.9 L1075.2,125.5 L1075.2,127.5 L1072.8,130.1 L1070.2,130.1 L1067.8,127.5 Z" fill="#f00000"/>
<path d="M1147.8,181.5 L1150.2,178.9 L1152.8,178.9 L1155.2,181.5 L1155.2,183.5 L1152.8,186.1 L1150.2,186.1 L1147.8,183.5 Z" fill="#f00000"/>
<path d="M635.8,189.5 L638.2,186.9 L640.8,186.9 L643.2,189.5 L643.2,191.5 L640.8,194.1 L638.2,194.1 L635.8,191.5 Z" fill="#f00000"/>
<path d="M659.8,189.5 L662.2,186.9 L664.8,186.9 L667.2,189.5 L667.2,191.5 L664.8,194.1 L662.2,194.1 L659.8,191.5 Z" fill="#f00000"/>
<path d="M707.8,189.5 L710.2,186.9 L712.8,186.9 L715.2,189.5 L715.2,191.5 L712.8,194.1 L710.2,194.1 L707.8,191.5 Z" fill="#f00000"/>
<path d="M731.8,189.5 L734.2,186.9 L736.8,186.9 L739.2,189.5 L739.2,191.5 L736.8,194.1 L734.2,194.1 L731.8,191.5 Z" fill="#f00000"/>
<path d="M795.8,189.5 L798.2,186.9 L800.8,186.9 L803.2,189.5 L803.2,191.5 L800.8,194.1 L798.2,194.1 L795.8,191.5 Z" fill="#f00000"/>
<path d="M827.8,181.5 L830.2,178.9 L832.8,178.9 L835.2,181.5 L835.2,183.5 L832.8,186.1 L830.2,186.1 L827.8,183.5 Z" fill="#f00000"/>
<path d="M827.8,245.5 L830.2,242.9 L832.8,242.9 L835.2,245.5 L835.2,247.5 L832.8,250.1 L830.2,250.1 L827.8,247.5 Z" fill="#f00000"/>
<path d="M779.8,237.5 L782.2,234.9 L784.8,234.9 L787.2,237.5 L787.2,239.5 L784.8,242.1 L782.2,242.1 L779.8,239.5 Z" fill="#f00000"/>
<path d="M795.8,237.5 L798.2,234.9 L800.8,234.9 L803.2,237.5 L803.2,239.5 L800.8,242.1 L798.2,242.1 L795.8,239.5 Z" fill="#f00000"/>
<path d="M971.8,213.5 L974.2,210.9 L976.8,210.9 L979.2,213.5 L979.2,215.5 L976.8,218.1 L974.2,218.1 L971.8,215.5 Z" fill="#f00000"/>
<path d="M1067.8,205.5 L1070.2,202.9 L1072.8,202.9 L1075.2,205.5 L1075.2,207.5 L1072.8,210.1 L1070.2,210.1 L1067.8,207.5 Z" fill="#f00000"/>
<path d="M1123.8,205.5 L1126.2,202.9 L1128.8,202.9 L1131.2,205.5 L1131.2,207.5 L1128.8,210.1 L1126.2,210.1 L1123.8,207.5 Z" fill="#f00000"/>
<path d="M1147.8,229.5 L1150.2,226.9 L1152.8,226.9 L1155.2,229.5 L1155.2,231.5 L1152.8,234.1 L1150.2,234.1 L1147.8,231.5 Z" fill="#f00000"/>
<path d="M867.8,269.5 L870.2,266.9 L872.8,266.9 L875.2,269.5 L875.2,271.5 L872.8,274.1 L870.2,274.1 L867.8,271.5 Z" fill="#f00000"/>
<path d="M875.8,269.5 L878.2,266.9 L880.8,266.9 L883.2,269.5 L883.2,271.5 L880.8,274.1 L878.2,274.1 L875.8,271.5 Z" fill="#f00000"/>
<path d="M979.8,269.5 L982.2,266.9 L984.8,266.9 L987.2,269.5 L987.2,271.5 L984.8,274.1 L982.2,274.1 L979.8,271.5 Z" fill="#f00000"/>
<path d="M995.8,269.5 L998.2,266.9 L1000.8,266.9 L1003.2,269.5 L1003.2,271.5 L1000.8,274.1 L998.2,274.1 L995.8,271.5 Z" fill="#f00000"/>
<path d="M995.8,317.5 L998.2,314.9 L1000.8,314.9 L1003.2,317.5 L1003.2,319.5 L1000.8,322.1 L998.2,322.1 L995.8,319.5 Z" fill="#f00000"/>
<path d="M675.8,333.5 L678.2,330.9 L680.8,330.9 L683.2,333.5 L683.2,335.5 L680.8,338.1 L678.2,338.1 L675.8,335.5 Z" fill="#f00000"/>
<path d="M779.8,333.5 L782.2,330.9 L784.8,330.9 L787.2,333.5 L787.2,335.5 L784.8,338.1 L782.2,338.1 L779.8,335.5 Z" fill="#f00000"/>
<path d="M827.8,333.5 L830.2,330.9 L832.8,330.9 L835.2,333.5 L835.2,335.5 L832.8,338.1 L830.2,338.1 L827.8,335.5 Z" fill="#f00000"/>
<path d="M995.8,333.5 L998.2,330.9 L1000.8,330.9 L1003.2,333.5 L1003.2,335.5 L1000.8,338.1 L998.2,338.1 L995.8,335.5 Z" fill="#f00000"/>
<path d="M1091.8,333.5 L1094.2,330.9 L1096.8,330.9 L1099.2,333.5 L1099.2,335.5 L1096.8,338.1 L1094.2,338.1 L1091.8,335.5 Z" fill="#f00000"/>
<path d="M1139.8,333.5 L1142.2,330.9 L1144.8,330.9 L1147.2,333.5 L1147.2,335.5 L1144.8,338.1 L1142.2,338.1 L1139.8,335.5 Z" fill="#f00000"/>
<path d="M1147.8,333.5 L1150.2,330.9 L1152.8,330.9 L1155.2,333.5 L1155.2,335.5 L1152.8,338.1 L1150.2,338.1 L1147.8,335.5 Z" fill="#f00000"/>
<path d="M1219.8,333.5 L1222.2,330.9 L1224.8,330.9 L1227.2,333.5 L1227.2,335.5 L1224.8,338.1 L1222.2,338.1 L1219.8,335.5 Z" fill="#f00000"/>
<path d="M1219.8,373.5 L1222.2,370.9 L1224.8,370.9 L1227.2,373.5 L1227.2,375.5 L1224.8,378.1 L1222.2,378.1 L1219.8,375.5 Z" fill="#f00000"/>
<path d="M1219.8,421.5 L1222.2,418.9 L1224.8,418.9 L1227.2,421.5 L1227.2,423.5 L1224.8,426.1 L1222.2,426.1 L1219.8,423.5 Z" fill="#f00000"/>
<path d="M1067.8,397.5 L1070.2,394.9 L1072.8,394.9 L1075.2,397.5 L1075.2,399.5 L1072.8,402.1 L1070.2,402.1 L1067.8,399.5 Z" fill="#f00000"/>
<path d="M1123.8,397.5 L1126.2,394.9 L1128.8,394.9 L1131.2,397.5 L1131.2,399.5 L1128.8,402.1 L1126.2,402.1 L1123.8,399.5 Z" fill="#f00000"/>
<path d="M1067.8,429.5 L1070.2,426.9 L1072.8,426.9 L1075.2,429.5 L1075.2,431.5 L1072.8,434.1 L1070.2,434.1 L1067.8,431.5 Z" fill="#f00000"/>
<path d="M1067.8,493.5 L1070.2,490.9 L1072.8,490.9 L1075.2,493.5 L1075.2,495.5 L1072.8,498.1 L1070.2,498.1 L1067.8,495.5 Z" fill="#f00000"/>
<path d="M1219.8,493.5 L1222.2,490.9 L1224.8,490.9 L1227.2,493.5 L1227.2,495.5 L1224.8,498.1 L1222.2,498.1 L1219.8,495.5 Z" fill="#f00000"/>
<path d="M1067.8,533.0 L1070.2,530.4 L1072.8,530.4 L1075.2,533.0 L1075.2,535.0 L1072.8,537.6 L1070.2,537.6 L1067.8,535.0 Z" fill="#f00000"/>
<path d="M1067.8,581.0 L1070.2,578.4 L1072.8,578.4 L1075.2,581.0 L1075.2,583.0 L1072.8,585.6 L1070.2,585.6 L1067.8,583.0 Z" fill="#f00000"/>
<path d="M1067.8,589.5 L1070.2,586.9 L1072.8,586.9 L1075.2,589.5 L1075.2,591.5 L1072.8,594.1 L1070.2,594.1 L1067.8,591.5 Z" fill="#f00000"/>
<path d="M1147.8,517.0 L1150.2,514.4 L1152.8,514.4 L1155.2,517.0 L1155.2,519.0 L1152.8,521.6 L1150.2,521.6 L1147.8,519.0 Z" fill="#f00000"/>
<path d="M1147.8,565.5 L1150.2,562.9 L1152.8,562.9 L1155.2,565.5 L1155.2,567.5 L1152.8,570.1 L1150.2,570.1 L1147.8,567.5 Z" fill="#f00000"/>
<path d="M1147.8,589.5 L1150.2,586.9 L1152.8,586.9 L1155.2,589.5 L1155.2,591.5 L1152.8,594.1 L1150.2,594.1 L1147.8,591.5 Z" fill="#f00000"/>
<path d="M994.7,226.6 L999.9,226.6 L999.9,221.6 Z" fill="#12128a" stroke="#12128a" stroke-width="0.8"/>
<path d="M1063.5,145.9 L1063.5,140.9 L1068.9,145.9 Z" fill="#12128a" stroke="#12128a" stroke-width="0.8"/>
<path d="M1146.7,218.6 L1151.9,218.6 L1151.9,213.6 Z" fill="#12128a" stroke="#12128a" stroke-width="0.8"/>
<path d="M1143.5,393.8 L1143.5,388.8 L1148.9,393.8 Z" fill="#12128a" stroke="#12128a" stroke-width="0.8"/>
</g>
</svg>
</body></html>
